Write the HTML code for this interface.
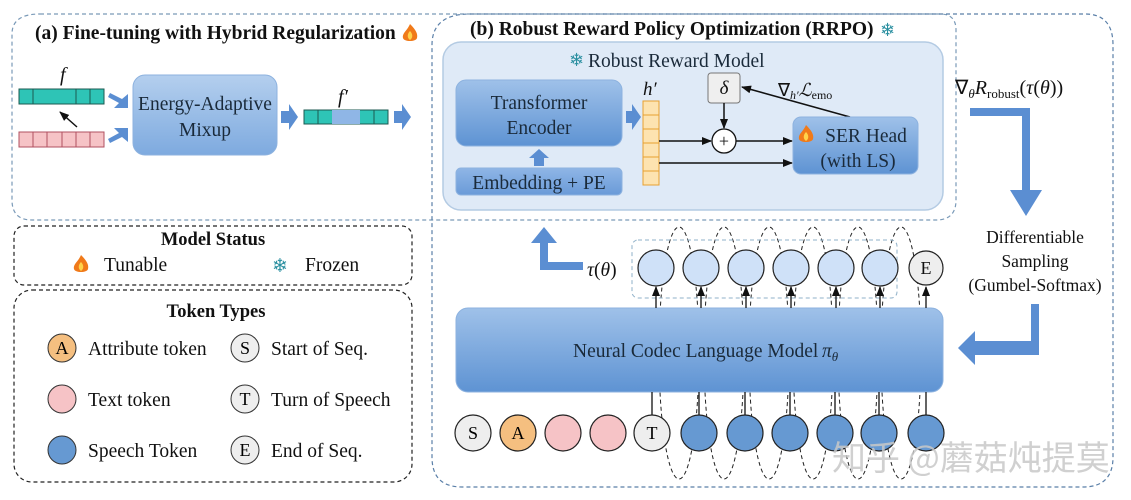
<!DOCTYPE html>
<html><head><meta charset="utf-8"><style>
body{margin:0;background:#fff;}
svg{display:block;font-family:"Liberation Serif",serif;}
</style></head><body>
<svg width="1131" height="500" viewBox="0 0 1131 500" xmlns="http://www.w3.org/2000/svg">
<defs>
<linearGradient id="bg1" x1="0" y1="0" x2="0" y2="1"><stop offset="0" stop-color="#b4cfee"/><stop offset="1" stop-color="#7eaadf"/></linearGradient>
<linearGradient id="bg2" x1="0" y1="0" x2="0" y2="1"><stop offset="0" stop-color="#9fc1e9"/><stop offset="1" stop-color="#5e93d3"/></linearGradient>
<linearGradient id="bg3" x1="0" y1="0" x2="0" y2="1"><stop offset="0" stop-color="#8fb6e6"/><stop offset="1" stop-color="#6a9bd8"/></linearGradient>
<marker id="ah" markerWidth="10" markerHeight="8" refX="9" refY="4" orient="auto" markerUnits="userSpaceOnUse"><path d="M0,0 L10,4 L0,8 z" fill="#111"/></marker>
<g id="flame"><path d="M0,-9 C6,-3 8,1 7,5 C6,9 -6,9 -7,5 C-8,0 -3,-2 0,-9 z" fill="#f07a1a"/><path d="M0,-2 C3,1 3,5 0,7 C-3,5 -3,1 0,-2 z" fill="#ffd24a"/></g>
</defs>
<path d="M40,14 H940 Q956,14 956,30 V200 Q956,220 936,220 H32 Q12,220 12,200 V34 Q12,14 40,14 z" fill="none" stroke="#7a9ab8" stroke-width="1.2" stroke-dasharray="4,3"/>
<path d="M470,14 H1085 Q1113,14 1113,45 V457 Q1113,487 1083,487 H462 Q432,487 432,457 V45 Q432,14 470,14 z" fill="none" stroke="#5a7fa8" stroke-width="1.2" stroke-dasharray="4,3"/>
<!-- (a) -->
<text x="35" y="39" font-size="19.5" font-weight="bold" fill="#111">(a) Fine-tuning with Hybrid Regularization</text>
<use href="#flame" x="410" y="33"/>
<text x="60" y="81" font-size="20" font-style="italic" fill="#111">f</text>
<g stroke="#1c5a50" stroke-width="1">
<rect x="19" y="89" width="85" height="15" fill="#2ec4b6"/>
<line x1="33" y1="89" x2="33" y2="104"/><line x1="76" y1="89" x2="76" y2="104"/><line x1="90" y1="89" x2="90" y2="104"/>
</g>
<g stroke="#b05060" stroke-width="1">
<rect x="19" y="132" width="85" height="15" fill="#f6c3c6"/>
<line x1="33" y1="132" x2="33" y2="147"/><line x1="47" y1="132" x2="47" y2="147"/><line x1="62" y1="132" x2="62" y2="147"/><line x1="76" y1="132" x2="76" y2="147"/><line x1="90" y1="132" x2="90" y2="147"/>
</g>
<line x1="77" y1="127" x2="60" y2="112" stroke="#111" stroke-width="1.5" marker-end="url(#ah)"/>
<path d="M110,93 L122,99 L128,94 L128,108 L114,108 L119,103 L108,97 z" fill="#5b8ed2"/>
<path d="M110,143 L122,137 L128,142 L128,128 L114,128 L119,133 L108,139 z" fill="#5b8ed2"/>
<rect x="133" y="75" width="144" height="80" rx="12" fill="url(#bg1)" stroke="#8db2df"/>
<text x="205" y="110" font-size="19.5" text-anchor="middle" fill="#1a2a3a">Energy-Adaptive</text>
<text x="205" y="136" font-size="19.5" text-anchor="middle" fill="#1a2a3a">Mixup</text>
<path d="M281,111 H289 V104 L298,117 L289,130 V123 H281 z" fill="#5b8ed2"/>
<text x="338" y="103" font-size="20" font-style="italic" fill="#111">f′</text>
<g stroke="#1c5a50" stroke-width="1">
<rect x="304" y="110" width="84" height="14" fill="#2ec4b6"/>
<rect x="332" y="110" width="28" height="14" fill="#8fb6e6" stroke="none"/>
<line x1="318" y1="110" x2="318" y2="124"/><line x1="374" y1="110" x2="374" y2="124"/>
</g>
<path d="M394,111 H402 V104 L411,117 L402,130 V123 H394 z" fill="#5b8ed2"/>
<!-- (b) -->
<text x="470" y="35" font-size="19.5" font-weight="bold" fill="#111">(b) Robust Reward Policy Optimization (RRPO)</text>
<text x="880" y="36" font-size="18" fill="#2a8fa0">❄</text>
<rect x="443" y="42" width="500" height="168" rx="18" fill="#dfeaf7" stroke="#b4cbe3" stroke-width="1.5"/>
<text x="569" y="66" font-size="18" fill="#2a8fa0">❄</text>
<text x="588" y="67" font-size="19.5" fill="#1a2a3a">Robust Reward Model</text>
<rect x="456" y="80" width="166" height="66" rx="10" fill="url(#bg2)" stroke="#8db2df"/>
<text x="539" y="109" font-size="19.5" text-anchor="middle" fill="#1a2a3a">Transformer</text>
<text x="539" y="134" font-size="19.5" text-anchor="middle" fill="#1a2a3a">Encoder</text>
<rect x="456" y="168" width="166" height="27" rx="5" fill="url(#bg3)" stroke="#8db2df"/>
<text x="539" y="189" font-size="19.5" text-anchor="middle" fill="#1a2a3a">Embedding + PE</text>
<path d="M534,166 V158 H529 L539,149 L549,158 H544 V166 z" fill="#5b8ed2"/>
<path d="M626,111 H632 V104 L641,117 L632,130 V123 H626 z" fill="#5b8ed2"/>
<text x="643" y="95" font-size="19" font-style="italic" fill="#111">h′</text>
<g fill="#fde3b0" stroke="#e8a030" stroke-width="1">
<rect x="643" y="101" width="16" height="14"/><rect x="643" y="115" width="16" height="14"/><rect x="643" y="129" width="16" height="14"/><rect x="643" y="143" width="16" height="14"/><rect x="643" y="157" width="16" height="14"/><rect x="643" y="171" width="16" height="14"/>
</g>
<rect x="708" y="73" width="32" height="30" rx="3" fill="#efefef" stroke="#777"/>
<text x="724" y="94" font-size="19" font-style="italic" text-anchor="middle" fill="#111">δ</text>
<line x1="724" y1="103" x2="724" y2="128" stroke="#111" stroke-width="1.5" marker-end="url(#ah)"/>
<circle cx="724" cy="141" r="12" fill="#fff" stroke="#111" stroke-width="1.3"/>
<text x="724" y="147" font-size="18" text-anchor="middle" fill="#111">+</text>
<line x1="659" y1="141" x2="711" y2="141" stroke="#111" stroke-width="1.5" marker-end="url(#ah)"/>
<line x1="736" y1="141" x2="792" y2="141" stroke="#111" stroke-width="1.5" marker-end="url(#ah)"/>
<line x1="659" y1="163" x2="792" y2="163" stroke="#111" stroke-width="1.5" marker-end="url(#ah)"/>
<line x1="850" y1="117" x2="742" y2="87" stroke="#111" stroke-width="1.5" marker-end="url(#ah)"/>
<text x="778" y="96" font-size="18" fill="#111">∇<tspan font-size="12" font-style="italic" dy="3">h′</tspan><tspan dy="-3" font-style="italic">ℒ</tspan><tspan font-size="12" dy="3">emo</tspan></text>
<rect x="793" y="117" width="125" height="57" rx="8" fill="url(#bg2)" stroke="#8db2df"/>
<use href="#flame" x="806" y="134"/>
<text x="866" y="142" font-size="19.5" text-anchor="middle" fill="#1a2a3a">SER Head</text>
<text x="858" y="167" font-size="19.5" text-anchor="middle" fill="#1a2a3a">(with LS)</text>
<text x="955" y="94" font-size="20" fill="#111">∇<tspan font-size="13" font-style="italic" dy="4">θ</tspan><tspan dy="-4" font-style="italic">R</tspan><tspan font-size="13" dy="4">robust</tspan><tspan dy="-4">(</tspan><tspan font-style="italic">τ</tspan>(<tspan font-style="italic">θ</tspan>))</text>
<path d="M970,108 H1030 V190 H1042 L1026,216 L1010,190 H1022 V116 H970 z" fill="#5b8ed2"/>
<text x="1035" y="243" font-size="17.5" text-anchor="middle" fill="#111">Differentiable</text>
<text x="1035" y="267" font-size="17.5" text-anchor="middle" fill="#111">Sampling</text>
<text x="1035" y="291" font-size="17.5" text-anchor="middle" fill="#111">(Gumbel-Softmax)</text>
<path d="M1039,304 V355 H975 V365 L958,348 L975,331 V341 H1031 V304 z" fill="#5b8ed2"/>
<path d="M583,262 V270 H540 V243 H531 L544,227 L557,243 H548 V262 z" fill="#5b8ed2"/>
<text x="587" y="276" font-size="19.5" fill="#111"><tspan font-style="italic">τ</tspan>(<tspan font-style="italic">θ</tspan>)</text>
<!-- ellipses behind -->
<g fill="none" stroke="#222" stroke-width="1" stroke-dasharray="4,3">
<ellipse cx="679" cy="353" rx="20" ry="126"/><ellipse cx="724" cy="353" rx="20" ry="126"/><ellipse cx="769" cy="353" rx="20" ry="126"/><ellipse cx="813" cy="353" rx="20" ry="126"/><ellipse cx="858" cy="353" rx="20" ry="126"/><ellipse cx="901" cy="353" rx="20" ry="126"/>
</g>
<!-- NCLM -->
<rect x="456" y="308" width="487" height="84" rx="12" fill="url(#bg2)" stroke="#8db2df"/>
<text x="573" y="357" font-size="19.5" fill="#1a2a3a">Neural Codec Language Model</text>
<text x="822" y="357" font-size="19.5" font-style="italic" fill="#1a2a3a">π<tspan font-size="13" dy="4">θ</tspan></text>
<rect x="632" y="240" width="265" height="58" rx="6" fill="none" stroke="#8fb0c8" stroke-dasharray="4,3"/>
<g stroke="#111" stroke-width="1.3">
<line x1="656" y1="308" x2="656" y2="287" marker-end="url(#ah)"/><line x1="701" y1="308" x2="701" y2="287" marker-end="url(#ah)"/><line x1="746" y1="308" x2="746" y2="287" marker-end="url(#ah)"/><line x1="791" y1="308" x2="791" y2="287" marker-end="url(#ah)"/><line x1="836" y1="308" x2="836" y2="287" marker-end="url(#ah)"/><line x1="880" y1="308" x2="880" y2="287" marker-end="url(#ah)"/><line x1="926" y1="308" x2="926" y2="287" marker-end="url(#ah)"/>
<line x1="652" y1="392" x2="652" y2="416"/><line x1="699" y1="392" x2="699" y2="416"/><line x1="745" y1="392" x2="745" y2="416"/><line x1="790" y1="392" x2="790" y2="416"/><line x1="835" y1="392" x2="835" y2="416"/><line x1="879" y1="392" x2="879" y2="416"/><line x1="926" y1="392" x2="926" y2="416"/>
</g>
<g fill="#cfe1f8" stroke="#222" stroke-width="1.2">
<circle cx="656" cy="268" r="18"/><circle cx="701" cy="268" r="18"/><circle cx="746" cy="268" r="18"/><circle cx="791" cy="268" r="18"/><circle cx="836" cy="268" r="18"/><circle cx="880" cy="268" r="18"/>
</g>
<circle cx="926" cy="268" r="17" fill="#eee" stroke="#222" stroke-width="1.2"/>
<text x="926" y="274" font-size="18" text-anchor="middle" fill="#111">E</text>
<circle cx="473" cy="433" r="18" fill="#eee" stroke="#222" stroke-width="1.2"/><text x="473" y="439" font-size="18" text-anchor="middle">S</text>
<circle cx="518" cy="433" r="18" fill="#f5bf80" stroke="#222" stroke-width="1.2"/><text x="518" y="439" font-size="18" text-anchor="middle">A</text>
<circle cx="563" cy="433" r="18" fill="#f6c3c6" stroke="#222" stroke-width="1.2"/>
<circle cx="608" cy="433" r="18" fill="#f6c3c6" stroke="#222" stroke-width="1.2"/>
<circle cx="652" cy="433" r="18" fill="#eee" stroke="#222" stroke-width="1.2"/><text x="652" y="439" font-size="18" text-anchor="middle">T</text>
<g fill="#6699d2" stroke="#222" stroke-width="1.2">
<circle cx="699" cy="433" r="18"/><circle cx="745" cy="433" r="18"/><circle cx="790" cy="433" r="18"/><circle cx="835" cy="433" r="18"/><circle cx="879" cy="433" r="18"/><circle cx="926" cy="433" r="18"/>
</g>
<text x="832" y="470" font-size="34" fill="#c8c8c8" fill-opacity="0.85" font-family="'Noto Sans CJK SC',sans-serif">知乎 @蘑菇炖提莫</text>
<!-- legend -->
<rect x="14" y="226" width="398" height="59" rx="10" fill="none" stroke="#222" stroke-width="1.2" stroke-dasharray="4,3"/>
<text x="213" y="245" font-size="18.5" font-weight="bold" text-anchor="middle" fill="#111">Model Status</text>
<use href="#flame" x="81" y="264"/>
<text x="104" y="271" font-size="19.5" fill="#111">Tunable</text>
<text x="272" y="272" font-size="19" fill="#2a8fa0">❄</text>
<text x="305" y="271" font-size="19.5" fill="#111">Frozen</text>
<rect x="14" y="290" width="398" height="192" rx="18" fill="none" stroke="#222" stroke-width="1.2" stroke-dasharray="4,3"/>
<text x="216" y="317" font-size="18.5" font-weight="bold" text-anchor="middle" fill="#111">Token Types</text>
<circle cx="62" cy="348" r="14" fill="#f5bf80" stroke="#333"/><text x="62" y="354" font-size="18" text-anchor="middle">A</text>
<text x="88" y="355" font-size="19.5" fill="#111">Attribute token</text>
<circle cx="62" cy="399" r="14" fill="#f6c3c6" stroke="#333"/>
<text x="88" y="406" font-size="19.5" fill="#111">Text token</text>
<circle cx="62" cy="450" r="14" fill="#6699d2" stroke="#333"/>
<text x="88" y="457" font-size="19.5" fill="#111">Speech Token</text>
<circle cx="245" cy="348" r="14" fill="#eee" stroke="#333"/><text x="245" y="354" font-size="18" text-anchor="middle">S</text>
<text x="271" y="355" font-size="19.5" fill="#111">Start of Seq.</text>
<circle cx="245" cy="399" r="14" fill="#eee" stroke="#333"/><text x="245" y="405" font-size="18" text-anchor="middle">T</text>
<text x="271" y="406" font-size="19.5" fill="#111">Turn of Speech</text>
<circle cx="245" cy="450" r="14" fill="#eee" stroke="#333"/><text x="245" y="456" font-size="18" text-anchor="middle">E</text>
<text x="271" y="457" font-size="19.5" fill="#111">End of Seq.</text>
</svg>
</body></html>
